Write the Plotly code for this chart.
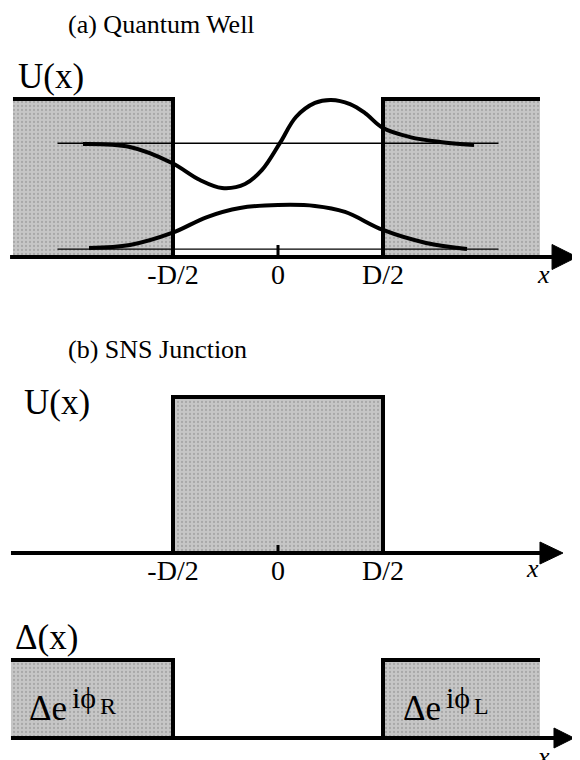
import plotly.graph_objects as go

# page body has an 8px margin: draw on a 572x752 figure and shift pixel positions by 8
OFF = 8
W, H = 580 - OFF, 760 - OFF
SERIF = "Liberation Serif, Times New Roman, serif"

# ---------------- data ----------------
tick_vals = [-1.0, 0.0, 1.0]
tick_text = ["-D/2", "0", "D/2"]
half_width = 1.0            # D/2
barrier_height = 1.0        # U0 (panel a and b)
gap_value = 1.0             # |Delta| (panel c)

# panel (a): energy levels and wavefunction samples (psi offset from level)
E_levels = [0.05, 0.72]
level_x = [-2.1, 2.1]
psi1_x = [-1.80, -1.41, -1.01, -0.676, -0.362, 0.0, 0.352, 0.638, 1.0, 1.41, 1.80]
psi1_y = [0.007, 0.026, 0.102, 0.203, 0.260, 0.279, 0.273, 0.235, 0.121, 0.039, 0.001]
psi2_x = [-1.857, -1.41, -1.01, -0.743, -0.533, -0.314, -0.152, 0.019, 0.171, 0.352,
          0.505, 0.686, 0.829, 1.0, 1.257, 1.543, 1.867]
psi2_y = [-0.005, -0.024, -0.125, -0.233, -0.283, -0.258, -0.169, 0.002, 0.166, 0.255,
          0.274, 0.248, 0.191, 0.096, 0.039, 0.008, -0.011]

# extents of drawing (in units of D/2)
extent_a = [-2.524, 2.495]
extent_c = [-2.543, 2.495]
axis_tip = [2.848, 2.714, 2.819]
axis_start = [-2.552, -2.543, -2.543]

# ---------------- geometry helpers (pixel layout of the reference) ----------------
X0PX, XUNIT = 278.0 - OFF, 105.0
xrange_ = [(0 - X0PX) / XUNIT, (W - X0PX) / XUNIT]


def ydomain(top, bot, base, unit):
    top, bot, base = top - OFF, bot - OFF, base - OFF
    dom = [max(0, 1 - bot / H), 1 - top / H]
    rng = [(base - bot) / unit, (base - top) / unit]
    return dom, rng


dom_a, rng_a = ydomain(40, 300, 257, 158)
dom_b, rng_b = ydomain(360, 600, 553, 156)
dom_c, rng_c = ydomain(610, 760, 738, 78)

GRAY = "#c4c4c4"
pattern = dict(shape=".", bgcolor="#c6c6c6", fgcolor="#8a8a8a", size=4, solidity=0.25)

fig = go.Figure()


def poly(xs, ys, xa, ya):
    fig.add_trace(go.Scatter(x=xs, y=ys, xaxis=xa, yaxis=ya, mode="lines", fill="toself",
                             fillcolor=GRAY, fillpattern=pattern, line=dict(width=0),
                             hoverinfo="skip", showlegend=False))


def line(xs, ys, xa, ya, w=4, shape="linear"):
    fig.add_trace(go.Scatter(x=xs, y=ys, xaxis=xa, yaxis=ya, mode="lines",
                             line=dict(color="black", width=w, shape=shape, smoothing=1.0),
                             hoverinfo="skip", showlegend=False))


def arrow(xa, ya, start, tip, length, half_h, unit_y):
    base = tip - length
    line([start, base + 0.01], [0, 0], xa, ya, w=4)
    fig.add_trace(go.Scatter(x=[base, tip, base, base], y=[half_h / unit_y, 0, -half_h / unit_y, half_h / unit_y],
                             xaxis=xa, yaxis=ya, mode="lines", fill="toself", fillcolor="black",
                             line=dict(color="black", width=1), hoverinfo="skip", showlegend=False))


# ---------- panel (a) ----------
poly([extent_a[0], -half_width, -half_width, extent_a[0]], [barrier_height, barrier_height, 0, 0], "x", "y")
poly([half_width, extent_a[1], extent_a[1], half_width], [barrier_height, barrier_height, 0, 0], "x", "y")
for E in E_levels:
    line(level_x, [E, E], "x", "y", w=1.3)
line([extent_a[0], -half_width, -half_width], [barrier_height, barrier_height, 0], "x", "y", w=4)
line([half_width, half_width, extent_a[1]], [0, barrier_height, barrier_height], "x", "y", w=4)
line(psi1_x, [E_levels[0] + v for v in psi1_y], "x", "y", w=4, shape="spline")
line(psi2_x, [E_levels[1] + v for v in psi2_y], "x", "y", w=4, shape="spline")
line([0, 0], [0, 12 / 158], "x", "y", w=3)
arrow("x", "y", axis_start[0], axis_tip[0], 25 / XUNIT, 12.5, 158)

# ---------- panel (b) ----------
poly([-half_width, half_width, half_width, -half_width], [barrier_height, barrier_height, 0, 0], "x2", "y2")
line([-half_width, -half_width, half_width, half_width], [0, barrier_height, barrier_height, 0], "x2", "y2", w=4)
line([0, 0], [0, 8 / 156], "x2", "y2", w=3)
arrow("x2", "y2", axis_start[1], axis_tip[1], 23 / XUNIT, 11, 156)

# ---------- panel (c) ----------
poly([extent_c[0], -half_width, -half_width, extent_c[0]], [gap_value, gap_value, 0, 0], "x3", "y3")
poly([half_width, extent_c[1], extent_c[1], half_width], [gap_value, gap_value, 0, 0], "x3", "y3")
line([extent_c[0], -half_width, -half_width, half_width, half_width, extent_c[1]],
     [gap_value, gap_value, 0, 0, gap_value, gap_value], "x3", "y3", w=4)
arrow("x3", "y3", axis_start[2], axis_tip[2], 20 / XUNIT, 10, 78)

# ---------------- axes ----------------
common_x = dict(range=xrange_, domain=[0, 1], showgrid=False, zeroline=False, showline=False,
                ticks="", fixedrange=True)
common_y = dict(showgrid=False, zeroline=False, showline=False, showticklabels=False,
                ticks="", fixedrange=True)
tickfont = dict(family=SERIF, size=28, color="black")

fig.update_layout(
    width=W, height=H, margin=dict(l=0, r=0, t=0, b=0),
    paper_bgcolor="white", plot_bgcolor="rgba(0,0,0,0)",
    xaxis=dict(**common_x, anchor="free", position=1 - (255 - OFF) / H, tickvals=tick_vals,
               ticktext=tick_text, tickfont=tickfont, showticklabels=True),
    xaxis2=dict(**common_x, anchor="free", position=1 - (551 - OFF) / H, tickvals=tick_vals,
                ticktext=tick_text, tickfont=tickfont, showticklabels=True),
    xaxis3=dict(**common_x, anchor="y3", showticklabels=False),
    yaxis=dict(**common_y, domain=dom_a, range=rng_a, anchor="x"),
    yaxis2=dict(**common_y, domain=dom_b, range=rng_b, anchor="x2"),
    yaxis3=dict(**common_y, domain=dom_c, range=rng_c, anchor="x3"),
)


def text(s, xpx, ypx, size, xanchor="left", italic=False, yanchor="middle"):
    fig.add_annotation(text=s, x=(xpx - OFF) / W, y=1 - (ypx - OFF) / H, xref="paper", yref="paper",
                       xanchor=xanchor, yanchor=yanchor, showarrow=False,
                       font=dict(family=SERIF, size=size, color="black",
                                 style="italic" if italic else "normal"))


text("(a) Quantum Well", 66, OFF, 26, yanchor="top")
text("U(x)", 16, 76, 35)
text("(b) SNS Junction", 66, 349, 26)
text("U(x)", 22, 402, 35)
text("Δ(x)", 13, 637, 35)
text("x", 543, 274, 26, xanchor="center", italic=True)
text("x", 532, 568, 26, xanchor="center", italic=True)
text("x", 543, 756, 26, xanchor="center", italic=True)
# superconducting order parameter labels
text("Δe", 27, 708, 35)
text("iϕ", 70, 697, 30)
text("R", 98, 706, 24)
text("Δe", 401, 708, 35)
text("iϕ", 444, 697, 30)
text("L", 472, 706, 24)

fig.write_html("out.html")
